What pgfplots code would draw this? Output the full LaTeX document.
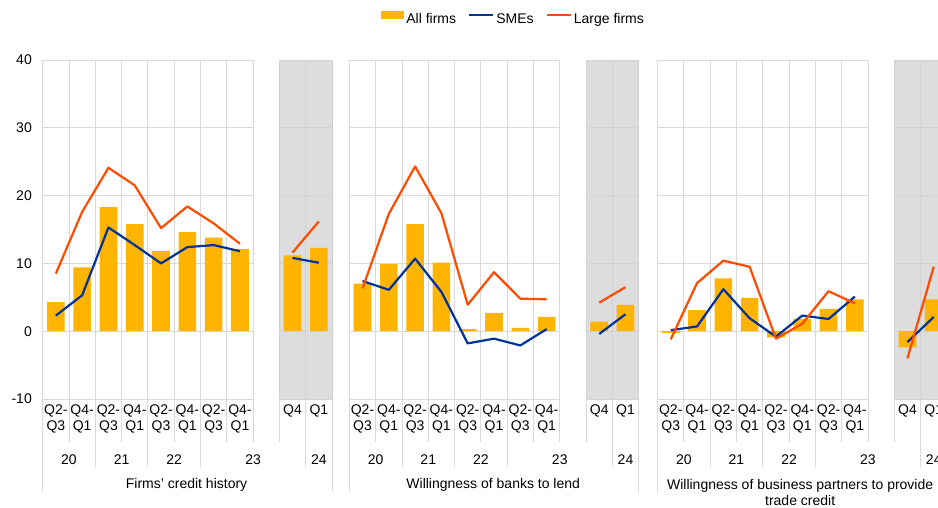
\documentclass[border=0pt]{standalone}
\usepackage{pgfplots}
\pgfplotsset{compat=1.18}
\usepackage{pgfplotstable}
\usepackage{fontspec}
\setmainfont{Liberation Sans}
\definecolor{allc}{HTML}{FFB400}
\definecolor{smec}{HTML}{003299}
\definecolor{largec}{HTML}{FF4B00}
\definecolor{gridc}{HTML}{D9D9D9}
\definecolor{bandc}{HTML}{DDDDDD}
\definecolor{bandgrid}{HTML}{D2D2D2}

\pgfplotstableread{
x all sme large
0.5 4.3 2.3 8.5
1.5 9.4 5.3 17.6
2.5 18.3 15.3 24.1
3.5 15.8 12.7 21.5
4.5 11.8 10.0 15.2
5.5 14.6 12.4 18.4
6.5 13.8 12.7 15.9
7.5 12.1 11.8 12.9
8.5 nan nan nan
9.5 11.2 10.8 11.6
10.5 12.3 10.1 16.2
11.0 nan nan nan
12.16 7.0 7.4 6.3
13.16 9.9 6.1 17.3
14.16 15.8 10.7 24.3
15.16 10.1 5.8 17.4
16.16 0.3 -1.8 3.9
17.16 2.7 -1.1 8.7
18.16 0.5 -2.1 4.8
19.16 2.1 0.3 4.7
20.16 nan nan nan
21.16 1.4 -0.4 4.2
22.16 3.9 2.5 6.5
22.9 nan nan nan
23.88 -0.3 0.15 -1.2
24.88 3.1 0.7 7.1
25.88 7.8 6.2 10.4
26.88 4.9 1.9 9.5
27.88 -0.9 -0.8 -1.1
28.88 1.8 2.3 1.1
29.88 3.3 1.8 5.9
30.88 4.7 5.1 4.1
31.88 nan nan nan
32.88 -2.4 -1.6 -4.0
33.88 4.7 2.1 9.5
}\data

\begin{document}
\begin{tikzpicture}[font=\fontsize{14pt}{16pt}\selectfont]
\path[use as bounding box] (0,0) rectangle (938pt,508pt);
\clip (0,0) rectangle (938pt,508pt);
\begin{scope}[x=26.3pt,y=6.78pt,shift={(42.7pt,176.8pt)}]
  \foreach \o in {0,11.66,23.38}{
    \fill[bandc] (\o+9,-10) rectangle (\o+11,40);
    \foreach \v in {-10,0,...,40}{
      \draw[gridc,line width=0.9pt] (\o,\v) -- (\o+8,\v);
      \draw[bandgrid,line width=0.9pt] (\o+9,\v) -- (\o+11,\v);
    }
    \foreach \i in {0,...,8}{\draw[gridc,line width=0.9pt] (\o+\i,40) -- (\o+\i,-16.298);}
    \foreach \i in {9,10,11}{
      \draw[bandgrid,line width=0.9pt] (\o+\i,40) -- (\o+\i,-10);
      \draw[gridc,line width=0.9pt] (\o+\i,-10) -- (\o+\i,-16.298);
    }
    \foreach \i in {0,2,4,6,10}{\draw[gridc,line width=0.9pt] (\o+\i,-16.298) -- (\o+\i,-20.03);}
    \draw[gridc,line width=0.9pt] (\o,-16.298) -- (\o,-23.673);
    \draw[gridc,line width=0.9pt] (\o+11,-16.298) -- (\o+11,-23.673);
    \foreach \i in {0,2,4,6}{
      \node[align=center,inner sep=0pt] at (\o+\i+0.5,-12.906) {Q2-\\Q3};
      \node[align=center,inner sep=0pt] at (\o+\i+1.5,-12.906) {Q4-\\Q1};
    }
    \node[inner sep=0pt] at (\o+9.5,-11.726) {Q4};
    \node[inner sep=0pt] at (\o+10.5,-11.726) {Q1};
    \node[inner sep=0pt] at (\o+1,-18.894) {20};
    \node[inner sep=0pt] at (\o+3,-18.894) {21};
    \node[inner sep=0pt] at (\o+5,-18.894) {22};
    \node[inner sep=0pt] at (\o+8,-18.894) {23};
    \node[inner sep=0pt] at (\o+10.5,-18.894) {24};
  }
  \node[inner sep=0pt] at (5.47,-22.684) {Firms' credit history};
  \node[inner sep=0pt] at (17.13,-22.684) {Willingness of banks to lend};
  \node[inner sep=0pt,align=center] at (28.8,-23.75) {Willingness of business partners to provide\\trade credit};
\end{scope}
\begin{axis}[
  at={(42.7pt,109pt)}, anchor=south west,
  scale only axis, width=895.252pt, height=339pt,
  xmin=0, xmax=34.04, ymin=-10, ymax=40,
  axis line style={draw=none}, major tick length=0pt,
  xtick=\empty,
  ytick={-10,0,10,20,30,40},
  yticklabels={-10,0,10,20,30,40},
  yticklabel style={anchor=east, inner sep=0pt, xshift=-10.7pt, font=\fontsize{14pt}{16pt}\selectfont},
  unbounded coords=jump,
  legend columns=3,
  legend style={at={(0.526,1.121)}, anchor=center, draw=none, fill=none,
    font=\fontsize{14pt}{16pt}\selectfont,
    nodes={inner sep=2pt},
    /tikz/every even column/.append style={column sep=10pt}},
]
\addplot[ybar, bar width=0.67, fill=allc, draw=none,
  legend image code/.code={\fill[allc] (0pt,0.5pt) rectangle (23pt,8.5pt);}]
  table[x=x,y=all]{\data};
\addlegendentry{All firms}
\addplot[smec, line width=2.2pt, no markers, line join=round,
  legend image code/.code={\draw[smec,line width=2.2pt] (0pt,4.5pt) -- (24pt,4.5pt);}]
  table[x=x,y=sme]{\data};
\addlegendentry{SMEs}
\addplot[largec, line width=2.2pt, no markers, line join=round,
  legend image code/.code={\draw[largec,line width=2.2pt] (0pt,4.5pt) -- (24pt,4.5pt);}]
  table[x=x,y=large]{\data};
\addlegendentry{Large firms}
\end{axis}
\end{tikzpicture}
\end{document}
